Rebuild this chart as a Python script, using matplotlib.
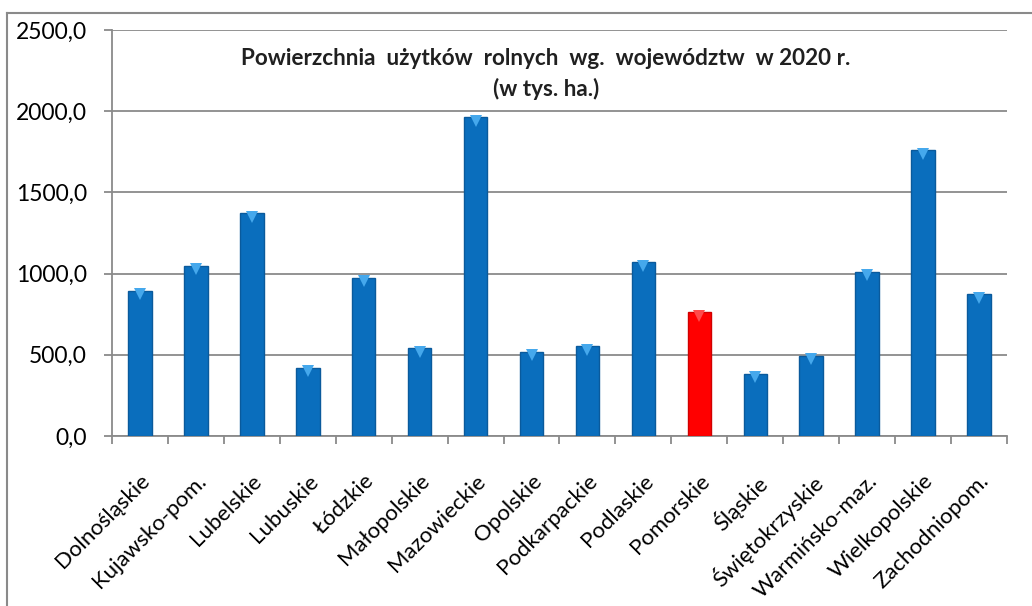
import matplotlib.pyplot as plt
from matplotlib.lines import Line2D
from matplotlib.transforms import offset_copy
from matplotlib.ticker import FuncFormatter, MultipleLocator

wojewodztwa = ["Dolnośląskie", "Kujawsko-pom.", "Lubelskie", "Lubuskie", "Łódzkie",
               "Małopolskie", "Mazowieckie", "Opolskie", "Podkarpackie", "Podlaskie",
               "Pomorskie", "Śląskie", "Świętokrzyskie", "Warmińsko-maz.",
               "Wielkopolskie", "Zachodniopom."]
powierzchnia = [895, 1049, 1371, 421, 973, 540, 1962, 519, 554, 1069,
                761, 384, 493, 1012, 1759, 874]
wyrozniony = "Pomorskie"

plt.rcParams['font.family'] = ['Lato', 'DejaVu Sans']

fig = plt.figure(figsize=(10.32, 6.06), dpi=100)
ax = fig.add_axes([0.1085, 0.2805, 0.8673, 0.67])

kolory = ["#ff0000" if w == wyrozniony else "#0a6ebd" for w in wojewodztwa]
krawedzie = ["#d00000" if w == wyrozniony else "#0a5a9c" for w in wojewodztwa]
czubki = ["#ff4a4a" if w == wyrozniony else "#45a8ec" for w in wojewodztwa]
x = list(range(len(wojewodztwa)))
ax.bar(x, powierzchnia, width=0.42, color=kolory, edgecolor=krawedzie, linewidth=1, zorder=3)

# jasny trójkąt na szczycie słupka (efekt Excela)
tr = offset_copy(ax.transData, fig=fig, x=0, y=-3.5, units="dots")
for xi, v, c in zip(x, powierzchnia, czubki):
    ax.plot(xi, v, marker="v", markersize=9, color=c, markeredgewidth=0, transform=tr, zorder=4)

ax.set_xlim(-0.5, len(wojewodztwa) - 0.5)
ax.set_ylim(0, 2500)
ax.yaxis.set_major_locator(MultipleLocator(500))
ax.yaxis.set_major_formatter(FuncFormatter(lambda v, p: f"{v:.1f}".replace(".", ",")))
ax.grid(axis="y", color="#8a8a8a", linewidth=1.3, zorder=0)

ax.set_xticks(x)
ax.set_xticklabels(wojewodztwa, rotation=45, ha="right", rotation_mode="anchor", fontsize=16)
ax.set_xticks([i - 0.5 for i in range(len(wojewodztwa) + 1)], minor=True)
ax.tick_params(axis="x", which="major", length=0, pad=25)
ax.tick_params(axis="x", which="minor", length=6, color="#8a8a8a", width=1.3)
ax.tick_params(axis="y", length=6, color="#8a8a8a", width=1.3, labelsize=16.5, pad=12)

for s in ["top", "right"]:
    ax.spines[s].set_visible(False)
for s in ["left", "bottom"]:
    ax.spines[s].set_color("#8a8a8a")
    ax.spines[s].set_linewidth(1.3)

ax.text(0.485, 0.955, "Powierzchnia  użytków  rolnych  wg.  województw  w 2020 r.\n(w tys. ha.)",
        transform=ax.transAxes, ha="center", va="top", fontsize=16.2, fontweight="bold",
        linespacing=1.5, color="#202020")

# ramka wykresu
fig.add_artist(Line2D([7 / 1032, 7 / 1032], [0, 1 - 13 / 606], color="#8a8a8a", linewidth=1.5))
fig.add_artist(Line2D([7 / 1032, 1], [1 - 13 / 606, 1 - 13 / 606], color="#8a8a8a", linewidth=1.5))

fig.savefig("out.png", dpi=100)
